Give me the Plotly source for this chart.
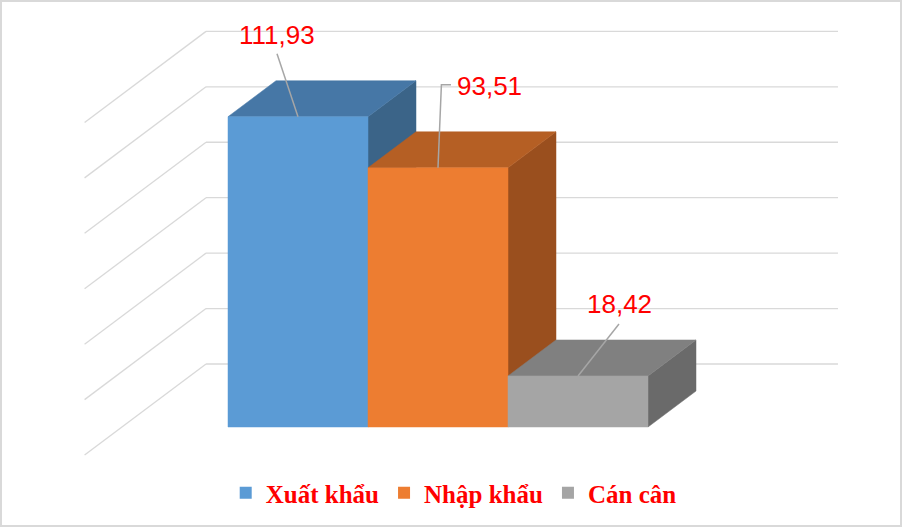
import plotly.graph_objects as go

# ---------------- data ----------------
categories = ["Xuất khẩu", "Nhập khẩu", "Cán cân"]
values = [111.93, 93.51, 18.42]
value_labels = ["111,93", "93,51", "18,42"]
grid_values = [0, 20, 40, 60, 80, 100, 120]

front_colors = ["#5B9BD5", "#ED7D31", "#A5A5A5"]
top_colors = ["#4677A6", "#B55F24", "#808080"]
side_colors = ["#3B6488", "#9A4F1E", "#6A6A6A"]

# ---------------- geometry (layout constants) ----------------
W, H = 902, 527
PX_PER_CAT = 140.0          # pixels per category width
PX_PER_VAL = 2.772          # pixels per value unit
ORIGIN_X_PX, ORIGIN_Y_PX = 228.0, 427.0   # front-bottom-left of first bar
DEPTH_PX_X, DEPTH_PX_Y = 48.0, 36.0       # screen offset for one bar depth
DX = DEPTH_PX_X / PX_PER_CAT
DY = DEPTH_PX_Y / PX_PER_VAL
WALL_Z = 1.75
FLOOR_FRONT_Z = -0.78
WALL_X0, WALL_X1 = -0.757, 3.757

GRID_COLOR = "#D9D9D9"
LEADER_COLOR = "#A6A6A6"

# label offsets relative to bar front-top centre (px, screen: +x right, +y up)
label_shift = [(-21, 81.5), (51, 81.5), (41, 72)]
leader_px = [
    [(0, 0), (-21, 63)],
    [(0, 0), (3.4, 83), (13, 83)],
    [(0, 0), (41, 52)],
]


def proj(x, v, z):
    return x + z * DX, v + z * DY


fig = go.Figure()

# back wall gridlines
for g in grid_values:
    p0 = proj(WALL_X0, g, WALL_Z)
    p1 = proj(WALL_X1, g, WALL_Z)
    fig.add_trace(go.Scatter(x=[p0[0], p1[0]], y=[p0[1], p1[1]], mode="lines",
                             line=dict(color=GRID_COLOR, width=1.3),
                             showlegend=False, hoverinfo="skip"))
# side wall gridlines
for g in grid_values:
    p0 = proj(WALL_X0, g, WALL_Z)
    p1 = proj(WALL_X0, g, FLOOR_FRONT_Z)
    fig.add_trace(go.Scatter(x=[p0[0], p1[0]], y=[p0[1], p1[1]], mode="lines",
                             line=dict(color=GRID_COLOR, width=1.3),
                             showlegend=False, hoverinfo="skip"))


def poly(points, color):
    xs = [p[0] for p in points] + [points[0][0]]
    ys = [p[1] for p in points] + [points[0][1]]
    fig.add_trace(go.Scatter(x=xs, y=ys, mode="lines", fill="toself",
                             fillcolor=color, line=dict(color=color, width=0.5),
                             showlegend=False, hoverinfo="skip"))


for i, v in enumerate(values):
    x0, x1 = i, i + 1
    # side face
    poly([proj(x1, 0, 0), proj(x1, 0, 1), proj(x1, v, 1), proj(x1, v, 0)], side_colors[i])
    # top face
    poly([proj(x0, v, 0), proj(x1, v, 0), proj(x1, v, 1), proj(x0, v, 1)], top_colors[i])
    # front face
    poly([proj(x0, 0, 0), proj(x1, 0, 0), proj(x1, v, 0), proj(x0, v, 0)], front_colors[i])

# leader lines and labels
for i, v in enumerate(values):
    cx = i + 0.5
    xs = [cx + dx / PX_PER_CAT for dx, dy in leader_px[i]]
    ys = [v + dy / PX_PER_VAL for dx, dy in leader_px[i]]
    fig.add_trace(go.Scatter(x=xs, y=ys, mode="lines",
                             line=dict(color=LEADER_COLOR, width=1.5),
                             showlegend=False, hoverinfo="skip"))
    fig.add_annotation(x=cx, y=v, xref="x", yref="y", text=value_labels[i],
                       showarrow=False, xshift=label_shift[i][0], yshift=label_shift[i][1],
                       font=dict(family="Liberation Sans", size=26, color="#FF0000"))

# legend entries
for i, c in enumerate(categories):
    fig.add_trace(go.Scatter(x=[None], y=[None], mode="markers", name=c,
                             marker=dict(symbol="square", size=12, color=front_colors[i])))

xr = [-ORIGIN_X_PX / PX_PER_CAT, (W - ORIGIN_X_PX) / PX_PER_CAT]
yr = [(ORIGIN_Y_PX - H) / PX_PER_VAL, ORIGIN_Y_PX / PX_PER_VAL]

fig.update_layout(
    width=W, height=H,
    margin=dict(l=0, r=0, t=0, b=0),
    paper_bgcolor="white", plot_bgcolor="white",
    xaxis=dict(range=xr, visible=False, fixedrange=True),
    yaxis=dict(range=yr, visible=False, fixedrange=True),
    showlegend=True,
    legend=dict(orientation="h", x=0.503, xanchor="center", y=(H - 493) / H, yanchor="middle",
                font=dict(family="Liberation Serif", size=25, color="#FF0000", weight="bold"),
                bgcolor="rgba(0,0,0,0)", itemclick=False, itemdoubleclick=False,
                tracegroupgap=0),
    shapes=[dict(type="rect", xref="paper", yref="paper", x0=0, y0=0, x1=1, y1=1,
                 line=dict(color="#D9D9D9", width=4), fillcolor="rgba(0,0,0,0)")],
)

fig.write_html("out.html", config={"displayModeBar": False},
               post_script="document.body.style.margin='0';document.body.style.overflow='hidden';")
